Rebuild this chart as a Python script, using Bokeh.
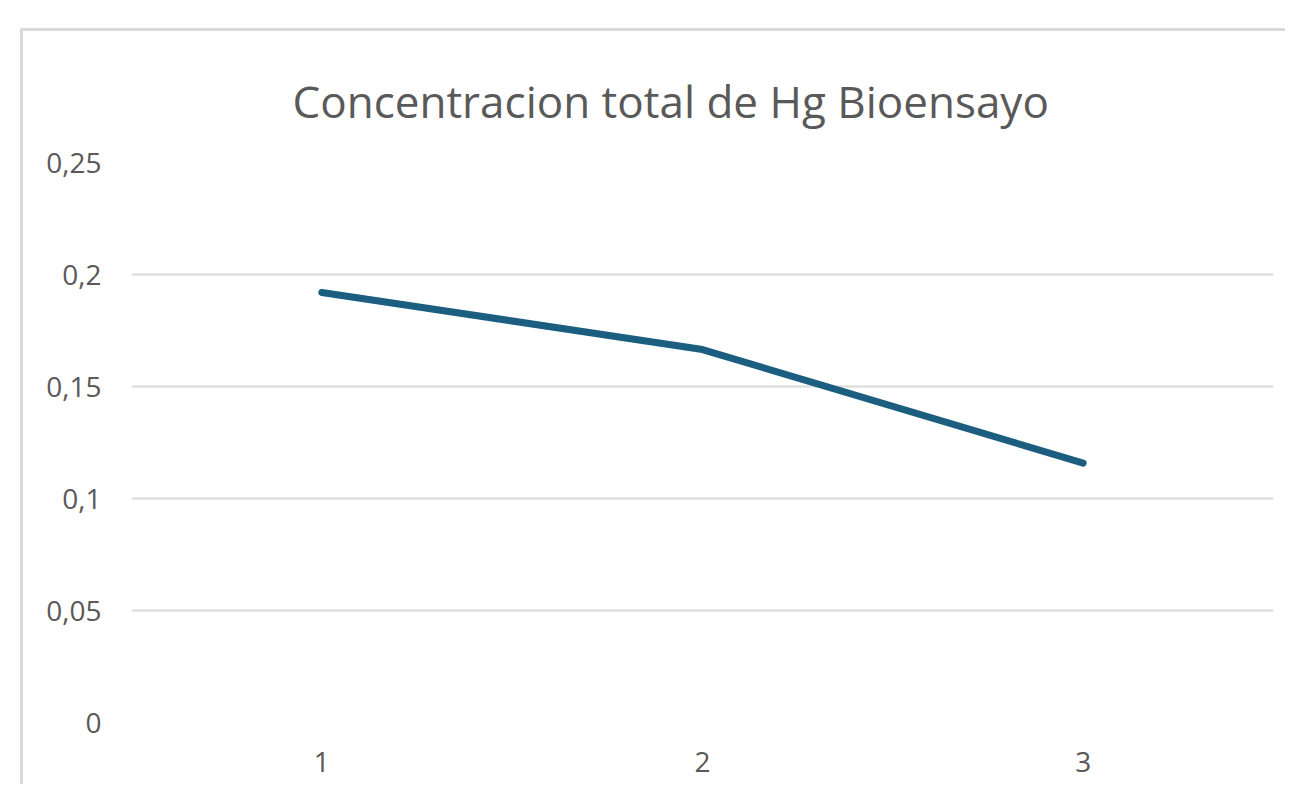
from bokeh.plotting import figure
from bokeh.models import Range1d, FixedTicker
from bokeh.embed import file_html
from bokeh.resources import INLINE

categories = ["1", "2", "3"]
values = [0.192, 0.1665, 0.1158]
y_ticks = [0, 0.05, 0.1, 0.15, 0.2, 0.25]
y_tick_labels = ["0", "0,05", "0,1", "0,15", "0,2", "0,25"]
title_text = "Concentracion total de Hg Bioensayo"

FONT = "Open Sans"
TXT = "#595959"
GRID = "#d9d9d9"

p = figure(
    x_range=categories,
    y_range=Range1d(0, 0.25),
    width=1265, height=756,
    output_backend="svg", toolbar_location=None,
    min_border_left=108, min_border_right=15,
    min_border_top=131, min_border_bottom=65,
    title=title_text,
)
p.styles = {"margin-left": "20px", "margin-top": "28px",
            "border-left": "3px solid #d9d9d9", "border-top": "3px solid #d9d9d9"}

p.title.align = "left"
p.title.offset = 161
p.title.standoff = 63
p.title.text_font = FONT
p.title.text_font_size = "44px"
p.title.text_font_style = "normal"
p.title.text_color = TXT

p.outline_line_color = None
p.background_fill_color = "white"
p.border_fill_color = "white"

p.xgrid.grid_line_color = None
p.ygrid.grid_line_color = GRID
p.ygrid.grid_line_width = 2

p.yaxis.ticker = FixedTicker(ticks=y_ticks)
p.yaxis.major_label_overrides = {t: l for t, l in zip(y_ticks, y_tick_labels)}
for ax in (p.xaxis, p.yaxis):
    ax.axis_line_color = None
    ax.major_tick_line_color = None
    ax.minor_tick_line_color = None
    ax.major_tick_out = 0
    ax.major_tick_in = 0
    ax.minor_tick_out = 0
    ax.major_label_text_font = FONT
    ax.major_label_text_font_size = "28px"
    ax.major_label_text_color = TXT
p.yaxis.major_label_standoff = 30
p.xaxis.major_label_standoff = 29

p.line(categories, values, line_color="#1b5e80", line_width=7, line_cap="round", line_join="round")

open("out.html", "w").write(file_html(p, INLINE))
